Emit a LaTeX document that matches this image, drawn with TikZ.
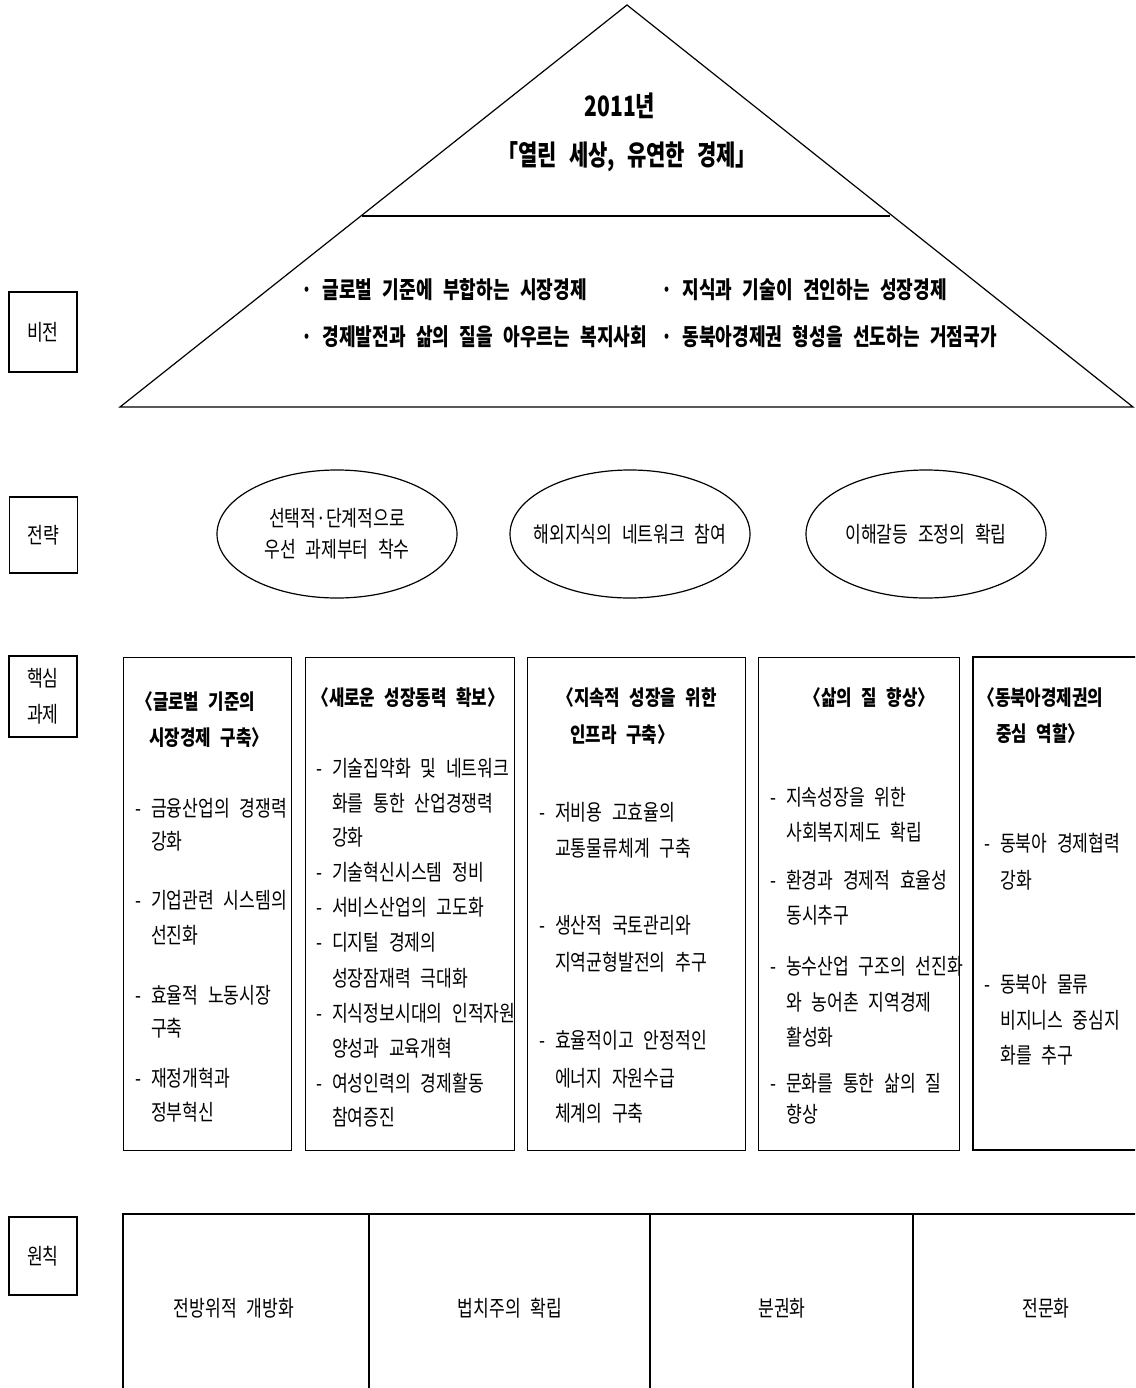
\documentclass[tikz,border=0pt]{standalone}
\usepackage{fontspec}
\usetikzlibrary{shapes.geometric}
\newfontfamily\kr[FakeStretch=0.78,WordSpace=2.5]{Noto Sans CJK KR}
\newfontfamily\krt[FakeStretch=0.80,WordSpace=2.5]{Noto Sans CJK KR}
\newfontfamily\krv[FakeStretch=0.77,WordSpace=2.5]{Noto Sans CJK KR}
\newfontfamily\krh[FakeStretch=0.75,WordSpace=2.5]{Noto Sans CJK KR}
\newcommand\dsh{\makebox[16pt][l]{-}}
\begin{document}
\begin{tikzpicture}[x=1pt,y=-1pt,
  ln/.style={line width=1.2pt},
  lab/.style={draw, line width=1.2pt, minimum width=68pt, inner sep=0pt, align=center, font=\kr\fontsize{22}{36}\selectfont},
  t/.style={anchor=west, inner sep=0pt, font=\kr\fontsize{22}{26}\selectfont},
  tb/.style={anchor=west, inner sep=0pt, font=\krt\bfseries\fontsize{21}{25}\selectfont},
  bul/.style={anchor=west, inner sep=0pt, font=\krv\bfseries\fontsize{23.5}{27}\selectfont},
  ttl/.style={inner sep=0pt, font=\krh\bfseries\fontsize{28}{32}\selectfont},
  ell/.style={ellipse, draw, line width=1.2pt, minimum width=240pt, minimum height=128pt, inner sep=0pt},
  etxt/.style={inner sep=0pt, align=center, font=\kr\fontsize{22}{31}\selectfont},
  box/.style={draw, line width=1.2pt, anchor=north west, inner sep=0pt},
  ctr/.style={inner sep=0pt, font=\kr\fontsize{22}{26}\selectfont}]
\useasboundingbox (0,0) rectangle (1135,1388);
\clip (0,0) rectangle (1135,1388);
\fill[white] (0,0) rectangle (1135,1388);

% ---------- Vision pyramid ----------
\coordinate (apex) at (627,5);
\coordinate (bl) at (120,407);
\coordinate (br) at (1133,407);
\coordinate (ml) at (362,216);
\coordinate (mr) at (890,216);
\draw[ln] (apex) -- (bl) -- (br) -- cycle;
\draw[ln] (ml) -- (mr);
\node[ttl] (yr) at (620,106) {2011년};
\node[ttl] (slogan) at (627,157) {「열린 세상, 유연한 경제」};
\node[bul] (v1) at (301,290) {· 글로벌 기준에 부합하는 시장경제};
\node[bul] (v2) at (661,290) {· 지식과 기술이 견인하는 성장경제};
\node[bul] (v3) at (301,337) {· 경제발전과 삶의 질을 아우르는 복지사회};
\node[bul] (v4) at (661,337) {· 동북아경제권 형성을 선도하는 거점국가};

% ---------- Row labels ----------
\node[lab, minimum height=80pt] (lv) at (43,332) {비전};
\node[lab, minimum height=76pt] (ls) at (43.5,535) {전략};
\node[lab, minimum height=81pt] (lk) at (43,696.5) {핵심\\과제};
\node[lab, minimum height=78pt] (lp) at (43,1256) {원칙};

% ---------- Strategy ellipses ----------
\node[ell] (e1) at (337,534) {};
\node[ell] (e2) at (630,534) {};
\node[ell] (e3) at (926,534) {};
\node[etxt] (e1t) at (e1) {선택적·단계적으로\\우선 과제부터 착수};
\node[etxt] (e2t) at (e2) {해외지식의 네트워크 참여};
\node[etxt] (e3t) at (e3) {이해갈등 조정의 확립};

% ---------- Core task boxes ----------
\node[box, minimum width=168pt, minimum height=493pt] (k1) at (123,657) {};
\node[box, minimum width=209pt, minimum height=493pt] (k2) at (305,657) {};
\node[box, minimum width=218pt, minimum height=493pt] (k3) at (527,657) {};
\node[box, minimum width=201pt, minimum height=493pt] (k4) at (758,657) {};
\coordinate (k5a) at (1145,657);
\coordinate (k5b) at (973,657);
\coordinate (k5c) at (973,1150);
\coordinate (k5d) at (1145,1150);
\draw[ln] (k5a) -- (k5b) -- (k5c) -- (k5d);

% column 1
\node[tb] (c1t1) at (136,702) {〈글로벌 기준의};
\node[tb] (c1t2) at (149,738) {시장경제 구축〉};
\node[t] (c1a) at (135,808) {\dsh 금융산업의 경쟁력};
\node[t] (c1b) at (151,841) {강화};
\node[t] (c1c) at (135,900) {\dsh 기업관련 시스템의};
\node[t] (c1d) at (151,935) {선진화};
\node[t] (c1e) at (135,995) {\dsh 효율적 노동시장};
\node[t] (c1f) at (151,1028) {구축};
\node[t] (c1g) at (135,1078) {\dsh 재정개혁과};
\node[t] (c1h) at (151,1112) {정부혁신};

% column 2
\node[tb] (c2t) at (312,698) {〈새로운 성장동력 확보〉};
\node[t] (c2a) at (316,768) {\dsh 기술집약화 및 네트워크};
\node[t] (c2b) at (332,803) {화를 통한 산업경쟁력};
\node[t] (c2c) at (332,837) {강화};
\node[t] (c2d) at (316,872) {\dsh 기술혁신시스템 정비};
\node[t] (c2e) at (316,907) {\dsh 서비스산업의 고도화};
\node[t] (c2f) at (316,942) {\dsh 디지털 경제의};
\node[t] (c2g) at (332,978) {성장잠재력 극대화};
\node[t] (c2h) at (316,1013) {\dsh 지식정보시대의 인적자원};
\node[t] (c2i) at (332,1048) {양성과 교육개혁};
\node[t] (c2j) at (316,1083) {\dsh 여성인력의 경제활동};
\node[t] (c2k) at (332,1117) {참여증진};

% column 3
\node[tb] (c3t1) at (557,698) {〈지속적 성장을 위한};
\node[tb] (c3t2) at (570,735) {인프라 구축〉};
\node[t] (c3a) at (539,812) {\dsh 저비용 고효율의};
\node[t] (c3b) at (555,848) {교통물류체계 구축};
\node[t] (c3c) at (539,925) {\dsh 생산적 국토관리와};
\node[t] (c3d) at (555,962) {지역균형발전의 추구};
\node[t] (c3e) at (539,1040) {\dsh 효율적이고 안정적인};
\node[t] (c3f) at (555,1078) {에너지 자원수급};
\node[t] (c3g) at (555,1113) {체계의 구축};

% column 4
\node[tb] (c4t) at (804,698) {〈삶의 질 향상〉};
\node[t] (c4a) at (770,797) {\dsh 지속성장을 위한};
\node[t] (c4b) at (786,832) {사회복지제도 확립};
\node[t] (c4c) at (770,880) {\dsh 환경과 경제적 효율성};
\node[t] (c4d) at (786,915) {동시추구};
\node[t] (c4e) at (770,966) {\dsh 농수산업 구조의 선진화};
\node[t] (c4f) at (786,1002) {와 농어촌 지역경제};
\node[t] (c4g) at (786,1037) {활성화};
\node[t] (c4h) at (770,1083) {\dsh 문화를 통한 삶의 질};
\node[t] (c4i) at (786,1114) {향상};

% column 5
\node[tb] (c5t1) at (978,698) {〈동북아경제권의};
\node[tb] (c5t2) at (996,734) {중심 역할〉};
\node[t] (c5a) at (984,843) {\dsh 동북아 경제협력};
\node[t] (c5b) at (1000,880) {강화};
\node[t] (c5c) at (984,984) {\dsh 동북아 물류};
\node[t] (c5d) at (1000,1020) {비지니스 중심지};
\node[t] (c5e) at (1000,1055) {화를 추구};

% ---------- Principles table ----------
\coordinate (pt0) at (123,1214);
\coordinate (pt1) at (1140,1214);
\coordinate (pb0) at (123,1395);
\draw[ln] (pb0) -- (pt0) -- (pt1);
\foreach \xx [count=\i] in {369,650,913}{
  \coordinate (vt\i) at (\xx,1214);
  \coordinate (vb\i) at (\xx,1395);
  \draw[ln] (vt\i) -- (vb\i);
}
\node[ctr] (p1) at (234,1308) {전방위적 개방화};
\node[ctr] (p2) at (510,1308) {법치주의 확립};
\node[ctr] (p3) at (782,1308) {분권화};
\node[ctr] (p4) at (1046,1308) {전문화};
\end{tikzpicture}
\end{document}
